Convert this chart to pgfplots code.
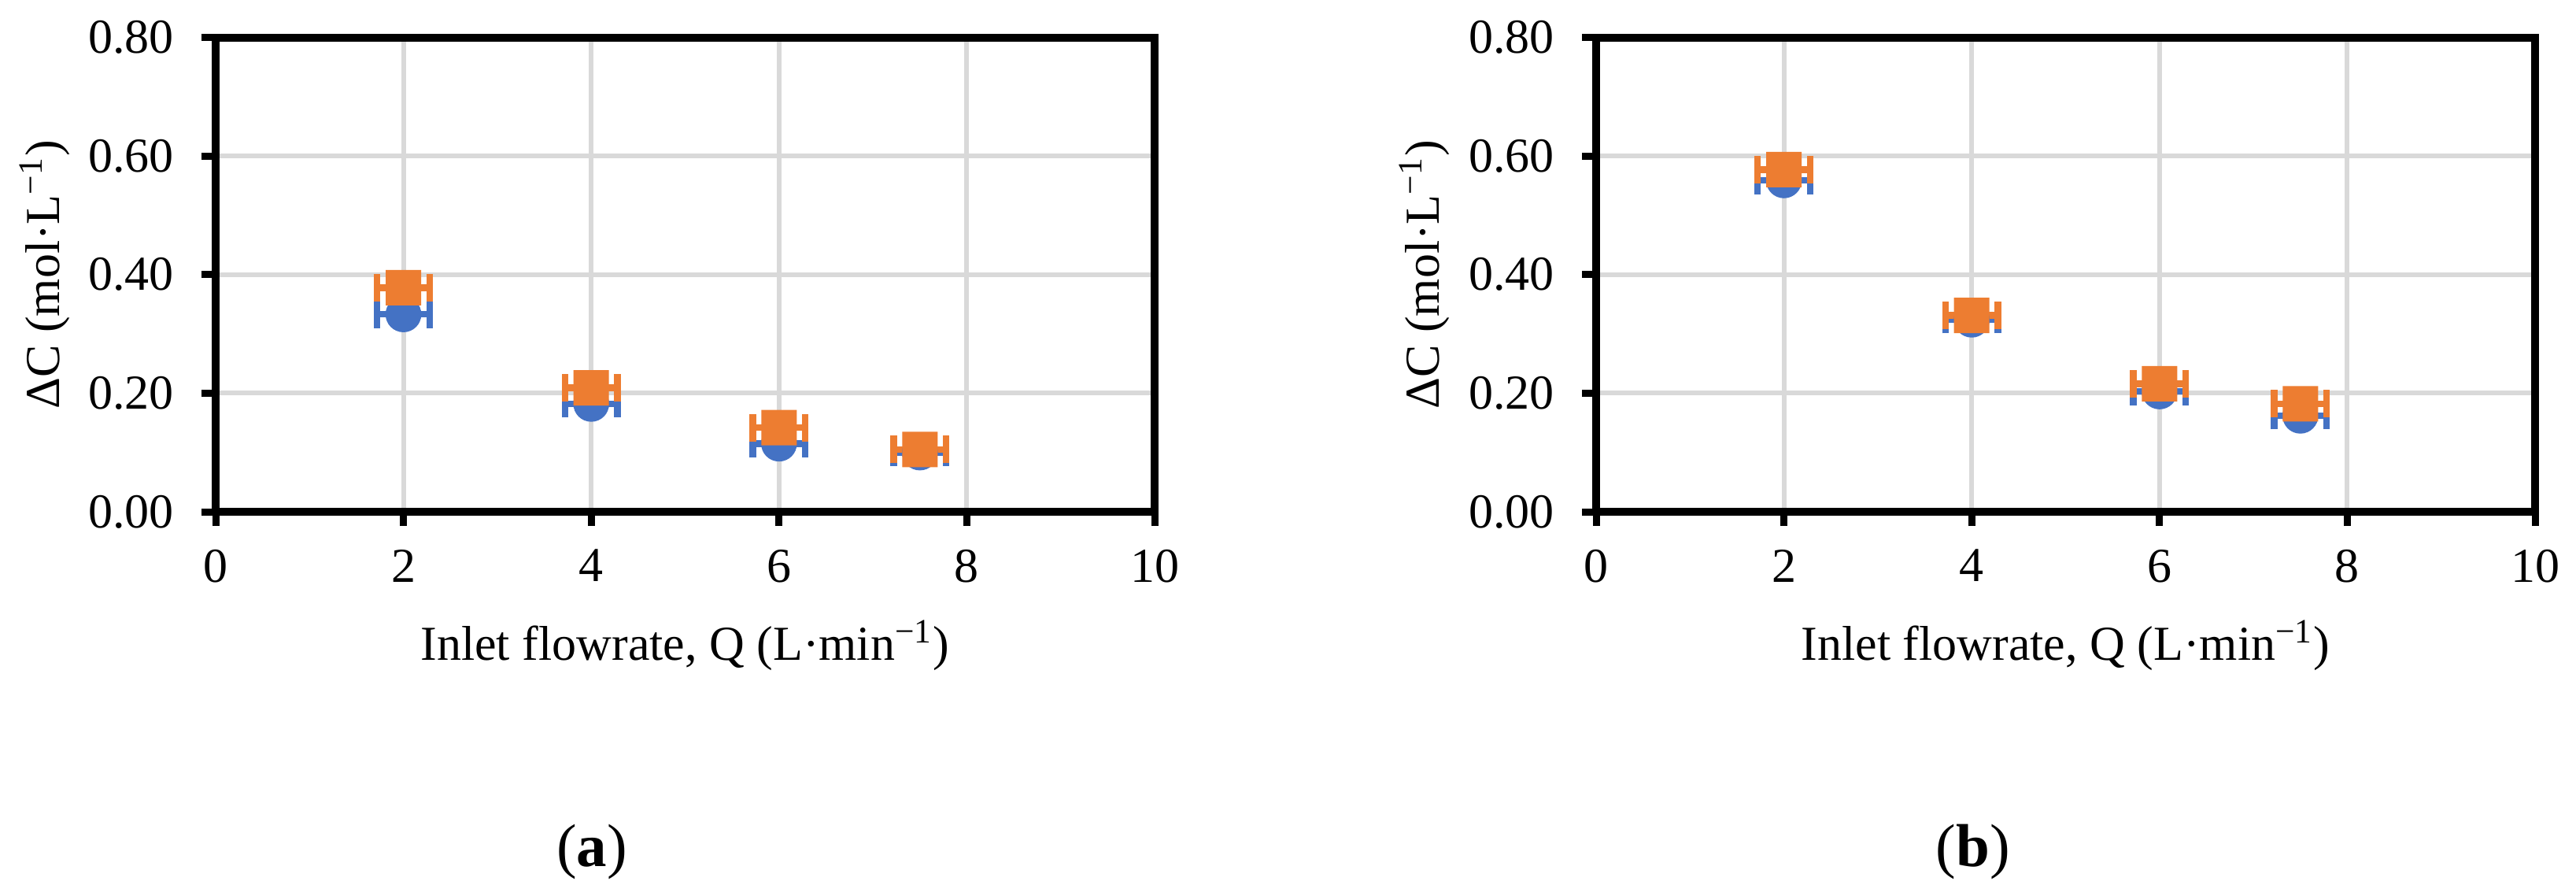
\documentclass[border=0pt]{standalone}
\usepackage{fontspec}
\setmainfont{Liberation Serif}
\usepackage{pgfplots}
\pgfplotsset{compat=1.18}
\definecolor{exBlue}{HTML}{4472C4}
\definecolor{exOrange}{HTML}{ED7D31}
\definecolor{gridGray}{HTML}{D9D9D9}
\newcommand\tf{\fontsize{12.4pt}{14pt}\selectfont}

% rounded square marker
\pgfdeclareplotmark{rsquare}{%
  \pgfsetcornersarced{\pgfpoint{0.3\pgfplotmarksize}{0.3\pgfplotmarksize}}%
  \pgfpathmoveto{\pgfpoint{0pt}{-\pgfplotmarksize}}%
  \pgfpathlineto{\pgfpoint{\pgfplotmarksize}{-\pgfplotmarksize}}%
  \pgfpathlineto{\pgfpoint{\pgfplotmarksize}{\pgfplotmarksize}}%
  \pgfpathlineto{\pgfpoint{-\pgfplotmarksize}{\pgfplotmarksize}}%
  \pgfpathlineto{\pgfpoint{-\pgfplotmarksize}{-\pgfplotmarksize}}%
  \pgfpathclose
  \pgfusepathqfill}

\pgfplotsset{
  panel/.style={
    scale only axis,
    width=238.6pt, height=120.5pt,
    anchor=south west,
    xmin=0, xmax=10, ymin=0, ymax=0.8,
    xtick={0,2,...,10},
    ytick={0,0.2,...,0.8},
    grid=major,
    grid style={line width=1.2pt, gridGray},
    axis line style={line width=2pt, black},
    tick align=outside,
    tick pos=left,
    major tick length=3.6pt,
    major tick style={line width=1.8pt, black},
    tick label style={font=\tf},
    /pgf/number format/assume math mode=true,
    yticklabel style={/pgf/number format/fixed, /pgf/number format/fixed zerofill,
      /pgf/number format/precision=2},
    xticklabel style={yshift=-2.5pt},
    yticklabel style={xshift=-3.5pt},
  },
  ser/.style={
    only marks,
    color=#1,
    error bars/x dir=both,
    error bars/x explicit,
    error bars/error bar style={line width=1.7pt, #1},
    error bars/error mark options={rotate=90, line width=1.7pt, mark size=3.5pt, #1},
  },
}

\begin{document}
\begin{tikzpicture}
\useasboundingbox (0,0) rectangle (654.6pt,227.4pt);

% panel (a)
\begin{axis}[panel, at={(54.8pt,97.4pt)}]
\addplot[ser=exBlue, mark=*, mark size=4.35pt]
  coordinates {
    (2,0.333) +- (0.28,0)
    (4,0.182) +- (0.28,0)
    (6,0.115) +- (0.28,0)
    (7.5,0.100) +- (0.28,0)
  };
\addplot[ser=exOrange, mark=rsquare, mark size=4.5pt]
  coordinates {
    (2,0.378) +- (0.28,0)
    (4,0.209) +- (0.28,0)
    (6,0.142) +- (0.28,0)
    (7.5,0.105) +- (0.28,0)
  };
\end{axis}

% panel (b)
\begin{axis}[panel, at={(405.6pt,97.4pt)}]
\addplot[ser=exBlue, mark=*, mark size=4.35pt]
  coordinates {
    (2,0.559) +- (0.28,0)
    (4,0.324) +- (0.28,0)
    (6,0.203) +- (0.28,0)
    (7.5,0.162) +- (0.28,0)
  };
\addplot[ser=exOrange, mark=rsquare, mark size=4.5pt]
  coordinates {
    (2,0.577) +- (0.28,0)
    (4,0.331) +- (0.28,0)
    (6,0.216) +- (0.28,0)
    (7.5,0.182) +- (0.28,0)
  };
\end{axis}

% axis titles and panel letters
\node[anchor=base, font=\tf] at (174.1pt,59.8pt) {Inlet flowrate, Q (L·min\textsuperscript{−1})};
\node[anchor=base, font=\tf] at (524.9pt,59.8pt) {Inlet flowrate, Q (L·min\textsuperscript{−1})};
\node[anchor=base, rotate=90, font=\tf] at (15pt,157.65pt) {ΔC (mol·L\textsuperscript{−1})};
\node[anchor=base, rotate=90, font=\tf] at (365.6pt,157.65pt) {ΔC (mol·L\textsuperscript{−1})};
\node[font=\fontsize{15.4pt}{17pt}\selectfont] at (150.4pt,11pt) {(\textbf{a})};
\node[font=\fontsize{15.4pt}{17pt}\selectfont] at (501.4pt,11pt) {(\textbf{b})};
\end{tikzpicture}
\end{document}
